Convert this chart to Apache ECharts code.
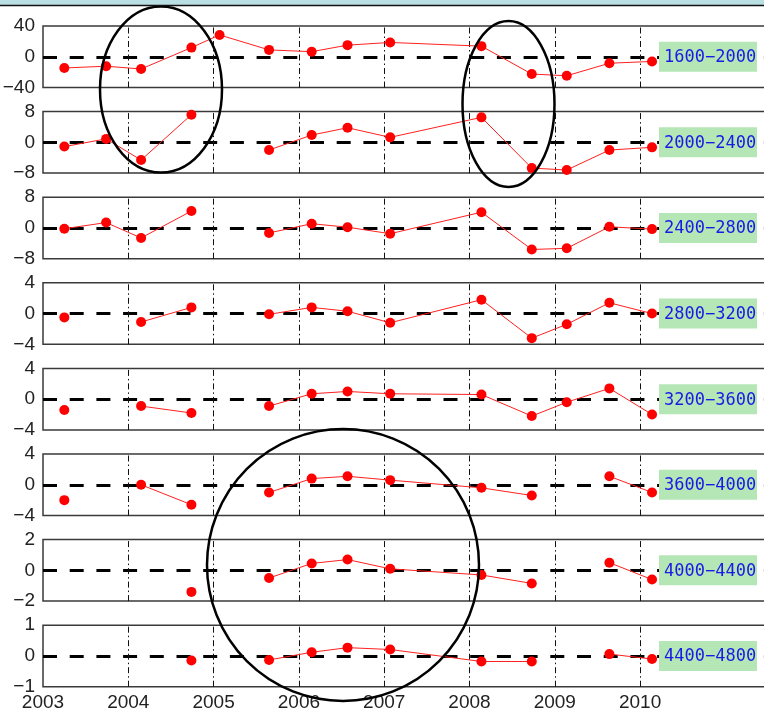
<!DOCTYPE html>
<html><head><meta charset="utf-8">
<script src="https://cdn.jsdelivr.net/npm/echarts@6/dist/echarts.min.js"></script>
<style>html,body{margin:0;padding:0;background:#fff}#c{width:764px;height:717px}</style>
</head><body><div id="c"></div>
<script>
// ---- data ----
const times = [2003.25, 2003.74, 2004.15, 2004.74, 2005.07, 2005.65, 2006.15, 2006.57, 2007.07, 2008.14, 2008.73, 2009.14, 2009.64, 2010.14];
const bandNames = ['1600-2000','2000-2400','2400-2800','2800-3200','3200-3600','3600-4000','4000-4400','4400-4800'];
const yLimits = [40, 8, 8, 4, 4, 4, 2, 1];
const v1600 = [-14.6, -12.3, -15.9, 11.9, 28.4, 8.9, 6.6, 15.1, 18.6, 13.8, -22.5, -24.7, -8.4, -6.1];
const v2000 = [-1.1, 0.9, -4.6, 7.2, null, -2.0, 1.9, 3.8, 1.3, 6.5, -6.7, -7.2, -2.0, -1.3];
const v2400 = [-0.2, 1.4, -2.6, 4.4, null, -1.3, 1.1, 0.2, -1.5, 4.1, -5.6, -5.3, 0.3, -0.3];
const v2800 = [-0.5, null, -1.1, 0.8, null, -0.1, 0.8, 0.3, -1.2, 1.8, -3.2, -1.4, 1.4, 0.0];
const v3200 = [-1.4, null, -0.9, -1.8, null, -0.9, 0.7, 1.0, 0.7, 0.6, -2.2, -0.4, 1.4, -2.0];
const v3600 = [-2.0, null, 0.0, -2.6, null, -1.0, 0.8, 1.1, 0.6, -0.4, -1.4, null, 1.1, -1.0];
const v4000 = [null, null, null, -1.4, null, -0.5, 0.45, 0.7, 0.1, -0.3, -0.85, null, 0.5, -0.6];
const v4400 = [null, null, null, -0.15, null, -0.13, 0.12, 0.27, 0.21, -0.18, -0.18, null, 0.06, -0.1];
const panelValues = [v1600, v2000, v2400, v2800, v3200, v3600, v4000, v4400];
const gridYears = [2004, 2005, 2006, 2007, 2008, 2009, 2010];
const xTickLabels = ['2003','2004','2005','2006','2007','2008','2009','2010'];

// ---- layout ----
const LEFT = 43, XMIN = 2003, XMAX = 2011.75, PX_PER_YEAR = 85.3;
const WIDTH = (XMAX - XMIN) * PX_PER_YEAR, TOP0 = 26, STEP = 85.6, H = 61.5;
const labelFont = '"Liberation Sans Narrow", "Arial Narrow", "Liberation Sans", sans-serif';
const fmtMinus = v => String(v).replace('-', '\u2212');

const grids = [], xAxes = [], yAxes = [], series = [], graphics = [];
graphics.push({type:'rect', shape:{x:0,y:0,width:764,height:5}, style:{fill:'#b9dfe2'}, z:100});
graphics.push({type:'line', shape:{x1:0,y1:5.5,x2:764,y2:5.5}, style:{stroke:'#111',lineWidth:1.5}, z:100});

panelValues.forEach((vals, i) => {
  const top = TOP0 + i * STEP;
  const last = i === panelValues.length - 1;
  grids.push({left: LEFT, top: top, width: WIDTH, height: H, show: true, outerBoundsMode: 'none',
    containLabel: false, borderColor: '#3a3a3a', borderWidth: 1.5, backgroundColor: 'transparent'});
  xAxes.push({type:'value', gridIndex:i, min:XMIN, max:XMAX, interval:1,
    axisLine:{show:false}, axisTick:{show:false}, splitLine:{show:false},
    axisLabel:{show:last, margin:7, fontFamily:labelFont, fontSize:19, color:'#222',
      showMinLabel:true, showMaxLabel:true,
      formatter: v => xTickLabels.indexOf(String(v)) >= 0 ? String(v) : ''}});
  const L = yLimits[i];
  yAxes.push({type:'value', gridIndex:i, min:-L, max:L, interval:L,
    axisLine:{show:false}, axisTick:{show:false}, splitLine:{show:false},
    axisLabel:{margin:8, fontFamily:labelFont, fontSize:19, color:'#222',
      showMinLabel:true, showMaxLabel:true, formatter: fmtMinus}});
  const mlData = [{yAxis:0, lineStyle:{type:[14,12.7], width:3, color:'#000'}}];
  gridYears.forEach(y => mlData.push({xAxis:y, lineStyle:{type:[6,3,1.5,3], width:1, color:'#111'}}));
  series.push({type:'line', xAxisIndex:i, yAxisIndex:i, data:[], z:1,
    markLine:{silent:true, symbol:['none','none'], z:1, label:{show:false}, animation:false, data: mlData}});
  series.push({type:'line', xAxisIndex:i, yAxisIndex:i, z:3, connectNulls:false,
    data: times.map((t, k) => [t, vals[k]]),
    symbol:'circle', symbolSize:10, showSymbol:true, showAllSymbol:true,
    itemStyle:{color:'#ff0000'}, lineStyle:{color:'#ff2020', width:1}, animation:false});
  const zeroY = top + H / 2;
  graphics.push({type:'rect', shape:{x:659, y:zeroY-15, width:98, height:30}, style:{fill:'#b5e6b5'}, z:50});
  graphics.push({type:'text', x:664, y:zeroY+1, z:51,
    style:{text: bandNames[i].replace('-', '\u2212'), fill:'#1a1ae6', font:'17px "DejaVu Sans Mono", monospace', verticalAlign:'middle', align:'left'}});
});

// annotation outlines
graphics.push({type:'ellipse', shape:{cx:161, cy:89.5, rx:61, ry:83}, style:{fill:null, stroke:'#000', lineWidth:2.5}, z:60});
graphics.push({type:'ellipse', shape:{cx:508.5, cy:104, rx:46, ry:83}, style:{fill:null, stroke:'#000', lineWidth:2.5}, z:60});
graphics.push({type:'circle', shape:{cx:343, cy:565, r:136}, style:{fill:null, stroke:'#000', lineWidth:2.5}, z:60});

const chart = echarts.init(document.getElementById('c'), null, {renderer:'canvas'});
chart.setOption({animation:false, backgroundColor:'#fff', grid:grids, xAxis:xAxes, yAxis:yAxes, series:series, graphic:graphics});
</script></body></html>
